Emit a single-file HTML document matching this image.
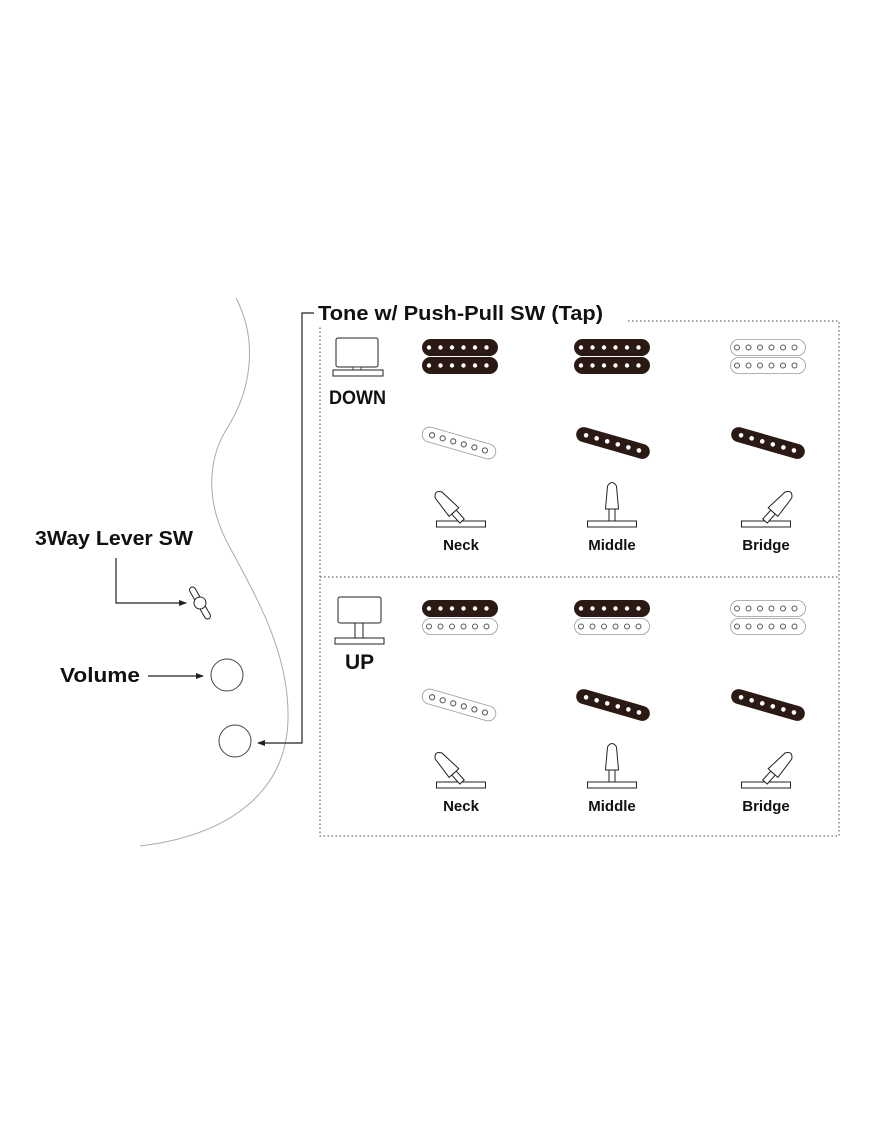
<!DOCTYPE html>
<html><head><meta charset="utf-8"><style>
html,body{margin:0;padding:0;background:#fff;}
svg{display:block;}
text{font-family:"Liberation Sans",sans-serif;font-weight:bold;fill:#111;}
</style></head><body>
<svg width="870" height="1131" viewBox="0 0 870 1131" xmlns="http://www.w3.org/2000/svg">
<defs>
<marker id="ar" markerWidth="8" markerHeight="8" refX="7" refY="4" orient="auto" markerUnits="userSpaceOnUse">
<path d="M0,1 L8,4 L0,7 z" fill="#222"/></marker>
<g id="dcoil"><rect x="-38" y="-8.5" width="76" height="17" rx="8.5" fill="#2b1a14"/>
<g fill="#fff"><circle cx="-31" cy="0" r="2.2"/><circle cx="-19.5" cy="0" r="2.2"/><circle cx="-8" cy="0" r="2.2"/><circle cx="3.5" cy="0" r="2.2"/><circle cx="15" cy="0" r="2.2"/><circle cx="26.5" cy="0" r="2.2"/></g></g>
<g id="lcoil"><rect x="-37.5" y="-8" width="75" height="16" rx="8" fill="#fff" stroke="#999" stroke-width="0.8"/>
<g fill="#fff" stroke="#555" stroke-width="1"><circle cx="-31" cy="0" r="2.5"/><circle cx="-19.5" cy="0" r="2.5"/><circle cx="-8" cy="0" r="2.5"/><circle cx="3.5" cy="0" r="2.5"/><circle cx="15" cy="0" r="2.5"/><circle cx="26.5" cy="0" r="2.5"/></g></g>
<g id="dsingle"><rect x="-38" y="-7.5" width="76" height="15" rx="7.5" fill="#2b1a14"/>
<g fill="#fff"><circle cx="-28" cy="0" r="2.3"/><circle cx="-17" cy="0" r="2.3"/><circle cx="-6" cy="0" r="2.3"/><circle cx="5" cy="0" r="2.3"/><circle cx="16" cy="0" r="2.3"/><circle cx="27" cy="0" r="2.3"/></g></g>
<g id="lsingle"><rect x="-38" y="-7.5" width="76" height="15" rx="7.5" fill="#fff" stroke="#999" stroke-width="0.8"/>
<g fill="#fff" stroke="#555" stroke-width="1"><circle cx="-28" cy="0" r="2.6"/><circle cx="-17" cy="0" r="2.6"/><circle cx="-6" cy="0" r="2.6"/><circle cx="5" cy="0" r="2.6"/><circle cx="16" cy="0" r="2.6"/><circle cx="27" cy="0" r="2.6"/></g></g>
<g id="lever" fill="#fff" stroke="#222" stroke-width="1"><rect x="-3" y="-12" width="6" height="12"/>
<path d="M-6.5,-12 L-4.5,-35 Q0,-42 4.5,-35 L6.5,-12 Z"/></g>
<g id="base"><rect x="-24.5" y="0" width="49" height="6" fill="#fff" stroke="#222" stroke-width="1"/></g>
</defs>

<path d="M236,298 C258,340 252,390 226,430 C208,460 206,500 226,540 C252,590 290,650 288,720 C286,790 232,835 140,846" fill="none" stroke="#aaa" stroke-width="1"/>

<rect x="320" y="321" width="519" height="515" fill="none" stroke="#444" stroke-width="1" stroke-dasharray="1.5,2.5"/>
<rect x="315" y="312" width="312" height="14" fill="#fff"/>
<line x1="320" y1="577" x2="839" y2="577" stroke="#444" stroke-dasharray="1.5,2.5"/>
<text x="318" y="320" font-size="20" textLength="285" lengthAdjust="spacingAndGlyphs">Tone w/ Push-Pull SW (Tap)</text>

<polyline points="314,313 302,313 302,743 258,743" fill="none" stroke="#222" stroke-width="1.2" marker-end="url(#ar)"/>

<text x="35" y="545" font-size="20" textLength="158" lengthAdjust="spacingAndGlyphs">3Way Lever SW</text>
<polyline points="116,558 116,603 186,603" fill="none" stroke="#222" stroke-width="1.2" marker-end="url(#ar)"/>
<g transform="translate(200,603) rotate(-30)"><rect x="-3" y="-18" width="6" height="36" rx="3" fill="#fff" stroke="#222"/><circle r="6" fill="#fff" stroke="#222"/></g>
<text x="60" y="682" font-size="20" textLength="80" lengthAdjust="spacingAndGlyphs">Volume</text>
<line x1="148" y1="676" x2="203" y2="676" stroke="#222" stroke-width="1.2" marker-end="url(#ar)"/>
<circle cx="227" cy="675" r="16" fill="#fff" stroke="#444"/>
<circle cx="235" cy="741" r="16" fill="#fff" stroke="#444"/>

<rect x="336" y="338" width="42" height="29" rx="2" fill="#fff" stroke="#222"/>
<rect x="353" y="367" width="8" height="3" fill="#fff" stroke="#222" stroke-width="0.8"/>
<rect x="333" y="370" width="50" height="6" fill="#fff" stroke="#222"/>
<text x="329" y="404" font-size="19" textLength="57" lengthAdjust="spacingAndGlyphs">DOWN</text>

<rect x="338" y="597" width="43" height="26" rx="2" fill="#fff" stroke="#222"/>
<rect x="355" y="623" width="8" height="15" fill="#fff" stroke="#222"/>
<rect x="335" y="638" width="49" height="6" fill="#fff" stroke="#222"/>
<text x="345" y="669" font-size="21">UP</text>

<use href="#dcoil" transform="translate(460,347.5)"/><use href="#dcoil" transform="translate(460,365.5)"/>
<use href="#dcoil" transform="translate(612,347.5)"/><use href="#dcoil" transform="translate(612,365.5)"/>
<use href="#lcoil" transform="translate(768,347.5)"/><use href="#lcoil" transform="translate(768,365.5)"/>
<use href="#lsingle" transform="translate(459,443) rotate(16)"/>
<use href="#dsingle" transform="translate(613,443) rotate(16)"/>
<use href="#dsingle" transform="translate(768,443) rotate(16)"/>
<use href="#base" transform="translate(461,521)"/><use href="#lever" transform="translate(462,521) rotate(-42)"/>
<use href="#base" transform="translate(612,521)"/><use href="#lever" transform="translate(612,521)"/>
<use href="#base" transform="translate(766,521)"/><use href="#lever" transform="translate(765,521) rotate(42)"/>
<text x="461" y="550" font-size="15" text-anchor="middle">Neck</text>
<text x="612" y="550" font-size="15" text-anchor="middle">Middle</text>
<text x="766" y="550" font-size="15" text-anchor="middle">Bridge</text>

<use href="#dcoil" transform="translate(460,608.5)"/><use href="#lcoil" transform="translate(460,626.5)"/>
<use href="#dcoil" transform="translate(612,608.5)"/><use href="#lcoil" transform="translate(612,626.5)"/>
<use href="#lcoil" transform="translate(768,608.5)"/><use href="#lcoil" transform="translate(768,626.5)"/>
<use href="#lsingle" transform="translate(459,705) rotate(16)"/>
<use href="#dsingle" transform="translate(613,705) rotate(16)"/>
<use href="#dsingle" transform="translate(768,705) rotate(16)"/>
<use href="#base" transform="translate(461,782)"/><use href="#lever" transform="translate(462,782) rotate(-42)"/>
<use href="#base" transform="translate(612,782)"/><use href="#lever" transform="translate(612,782)"/>
<use href="#base" transform="translate(766,782)"/><use href="#lever" transform="translate(765,782) rotate(42)"/>
<text x="461" y="811" font-size="15" text-anchor="middle">Neck</text>
<text x="612" y="811" font-size="15" text-anchor="middle">Middle</text>
<text x="766" y="811" font-size="15" text-anchor="middle">Bridge</text>
</svg>
</body></html>
